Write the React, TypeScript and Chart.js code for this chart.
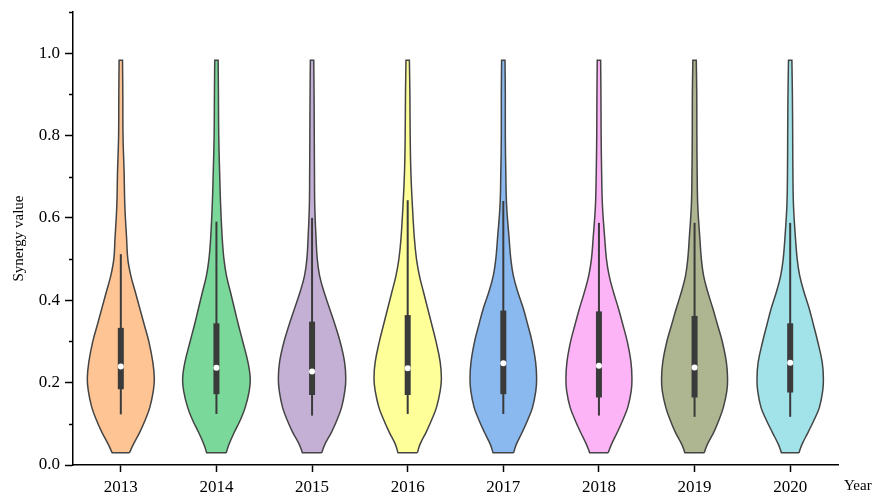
import React, { useEffect, useRef } from 'react';
import { Chart, registerables } from 'chart.js';

Chart.register(...registerables);

const YEARS = ['2013', '2014', '2015', '2016', '2017', '2018', '2019', '2020'];

// y levels at which the violin half-widths were read
const DENSITY_LEVELS = [0.03, 0.05, 0.08, 0.11, 0.14, 0.18, 0.21, 0.25, 0.30, 0.34, 0.38, 0.42, 0.46, 0.50, 0.55, 0.63, 0.71, 0.80, 0.90, 0.983];

// relative half-widths (density) per year at each level
const DENSITY_2013 = [8.7, 12.5, 19.0, 24.5, 29.0, 32.5, 33.5, 32.0, 28.0, 23.5, 19.0, 14.5, 10.0, 7.0, 5.8, 4.0, 3.3, 2.2, 2.0, 1.7];
const DENSITY_2014 = [9.8, 12.5, 18.0, 24.0, 28.8, 32.8, 33.8, 31.5, 26.3, 22.0, 18.0, 14.0, 10.0, 7.5, 5.8, 4.2, 3.2, 2.3, 2.0, 1.7];
const DENSITY_2015 = [9.7, 12.8, 19.5, 25.0, 29.5, 32.8, 33.7, 32.5, 28.0, 23.0, 17.5, 12.0, 7.5, 5.2, 4.0, 2.7, 2.4, 2.2, 2.0, 1.7];
const DENSITY_2016 = [9.7, 12.3, 18.5, 24.0, 28.8, 32.5, 33.7, 32.5, 28.3, 24.2, 20.0, 15.8, 11.7, 8.8, 6.7, 4.7, 3.2, 2.5, 2.2, 1.7];
const DENSITY_2017 = [10.3, 13.0, 19.0, 24.5, 29.2, 32.5, 33.3, 32.3, 28.7, 24.5, 20.0, 14.5, 10.0, 7.5, 5.8, 3.3, 2.5, 2.0, 2.0, 1.7];
const DENSITY_2018 = [9.3, 12.5, 18.5, 24.0, 28.8, 32.3, 33.0, 32.0, 28.3, 24.0, 19.5, 14.5, 10.2, 7.5, 5.8, 3.5, 2.7, 2.2, 2.0, 1.7];
const DENSITY_2019 = [9.7, 12.8, 19.3, 24.5, 28.8, 32.3, 33.0, 31.8, 27.7, 23.0, 18.3, 13.2, 9.0, 6.8, 5.3, 3.2, 2.6, 2.3, 2.2, 1.7];
const DENSITY_2020 = [8.8, 11.8, 18.0, 24.0, 29.2, 32.5, 33.2, 32.0, 27.5, 23.3, 19.0, 13.8, 9.5, 7.0, 5.3, 3.3, 2.7, 2.5, 2.2, 1.7];
const DENSITIES = [DENSITY_2013, DENSITY_2014, DENSITY_2015, DENSITY_2016, DENSITY_2017, DENSITY_2018, DENSITY_2019, DENSITY_2020];

// box plot statistics
const WHISKER_LOW = [0.123, 0.124, 0.120, 0.124, 0.124, 0.120, 0.117, 0.117];
const Q1 = [0.184, 0.172, 0.170, 0.170, 0.172, 0.164, 0.164, 0.176];
const MEDIAN = [0.239, 0.236, 0.227, 0.235, 0.247, 0.241, 0.237, 0.248];
const Q3 = [0.333, 0.344, 0.348, 0.364, 0.375, 0.373, 0.362, 0.344];
const WHISKER_HIGH = [0.512, 0.591, 0.600, 0.643, 0.641, 0.588, 0.588, 0.588];

const COLORS = ['#FFC493', '#7AD99A', '#C4B0D5', '#FFFF99', '#8AB9F0', '#FDB4F7', '#ADB591', '#A1E3E8'];

const Y_MAJOR_TICKS = [0, 0.2, 0.4, 0.6, 0.8, 1.0];
const Y_MINOR_TICKS = [0.1, 0.3, 0.5, 0.7, 0.9, 1.1];

const DENSITY_TO_X = 1 / 95.6; // density units -> category units
const FONT = "'Liberation Serif', 'Times New Roman', serif";

function violinPoints(i: number) {
  const d = DENSITIES[i];
  const n = DENSITY_LEVELS.length;
  const right = DENSITY_LEVELS.map((y, k) => ({ x: i + d[k] * DENSITY_TO_X, y }));
  const left = DENSITY_LEVELS.map((y, k) => ({ x: i - d[k] * DENSITY_TO_X, y })).reverse();
  // duplicate the corner points so the flat cuts stay sharp
  return [right[0], ...right, right[n - 1], left[0], ...left, left[n - 1], right[0]];
}

const extrasPlugin = {
  id: 'extras',
  afterDraw(chart: any) {
    const { ctx, chartArea, scales } = chart;
    const y = scales.y;
    ctx.save();
    ctx.strokeStyle = '#000';
    ctx.lineWidth = 1.5;
    Y_MINOR_TICKS.forEach((v) => {
      const py = Math.round(y.getPixelForValue(v)) + 0.5;
      ctx.beginPath();
      ctx.moveTo(chartArea.left - 4, py);
      ctx.lineTo(chartArea.left, py);
      ctx.stroke();
    });
    ctx.fillStyle = '#000';
    ctx.font = `15px ${FONT}`;
    ctx.textAlign = 'left';
    ctx.textBaseline = 'alphabetic';
    ctx.fillText('Year', chartArea.right + 6, 490);
    ctx.restore();
  },
};

export default function App() {
  const ref = useRef<HTMLCanvasElement | null>(null);

  useEffect(() => {
    document.body.style.margin = '0';
    if (!ref.current) return;
    const datasets: any[] = [];
    YEARS.forEach((_, i) => {
      datasets.push({
        data: violinPoints(i),
        fill: 'shape',
        backgroundColor: COLORS[i],
        borderColor: '#444444',
        borderWidth: 1.5,
        pointRadius: 0,
        tension: 0.4,
        order: 4,
      });
      datasets.push({
        data: [{ x: i, y: WHISKER_LOW[i] }, { x: i, y: WHISKER_HIGH[i] }],
        borderColor: '#3a3a3a',
        borderWidth: 2,
        pointRadius: 0,
        fill: false,
        order: 3,
      });
      datasets.push({
        data: [{ x: i, y: Q1[i] }, { x: i, y: Q3[i] }],
        borderColor: '#3a3a3a',
        borderWidth: 6,
        borderCapStyle: 'butt',
        pointRadius: 0,
        fill: false,
        order: 2,
      });
      datasets.push({
        data: [{ x: i, y: MEDIAN[i] }],
        showLine: false,
        pointRadius: 3,
        pointBackgroundColor: '#ffffff',
        pointBorderWidth: 0,
        pointBorderColor: '#ffffff',
        order: 1,
      });
    });

    const chart = new Chart(ref.current, {
      type: 'line',
      data: { datasets },
      plugins: [extrasPlugin],
      options: {
        animation: false,
        responsive: true,
        maintainAspectRatio: false,
        layout: { padding: { top: 12, right: 43, left: 0, bottom: 0 } },
        plugins: { legend: { display: false }, tooltip: { enabled: false } },
        scales: {
          x: {
            type: 'linear',
            min: -0.5,
            max: 7.5,
            afterBuildTicks: (s: any) => {
              s.ticks = YEARS.map((_, i) => ({ value: i }));
            },
            afterFit: (s: any) => {
              s.height = 35;
              s.paddingLeft = 0;
              s.paddingRight = 0;
            },
            ticks: {
              callback: (v: any) => YEARS[v] ?? '',
              font: { family: FONT, size: 17 },
              color: '#000',
              padding: 5,
              maxRotation: 0,
              autoSkip: false,
            },
            grid: { drawOnChartArea: false, drawTicks: true, tickLength: 7, tickColor: '#000', tickWidth: 1.5 },
            border: { display: true, color: '#000', width: 1.5 },
          },
          y: {
            type: 'linear',
            min: 0,
            max: 1.1,
            afterBuildTicks: (s: any) => {
              s.ticks = Y_MAJOR_TICKS.map((v) => ({ value: v }));
            },
            afterFit: (s: any) => {
              s.width = 73;
              s.paddingTop = 0;
              s.paddingBottom = 0;
            },
            ticks: {
              callback: (v: any) => Number(v).toFixed(1),
              font: { family: FONT, size: 17 },
              color: '#000',
              padding: 5,
            },
            grid: { drawOnChartArea: false, drawTicks: true, tickLength: 8, tickColor: '#000', tickWidth: 1.5 },
            border: { display: true, color: '#000', width: 1.5 },
            title: {
              display: true,
              text: 'Synergy value',
              font: { family: FONT, size: 15 },
              color: '#000',
              padding: { top: 10, bottom: 0 },
            },
          },
        },
      },
    });
    return () => chart.destroy();
  }, []);

  return (
    <div style={{ width: 881, height: 500, position: 'relative' }}>
      <canvas ref={ref} />
    </div>
  );
}
